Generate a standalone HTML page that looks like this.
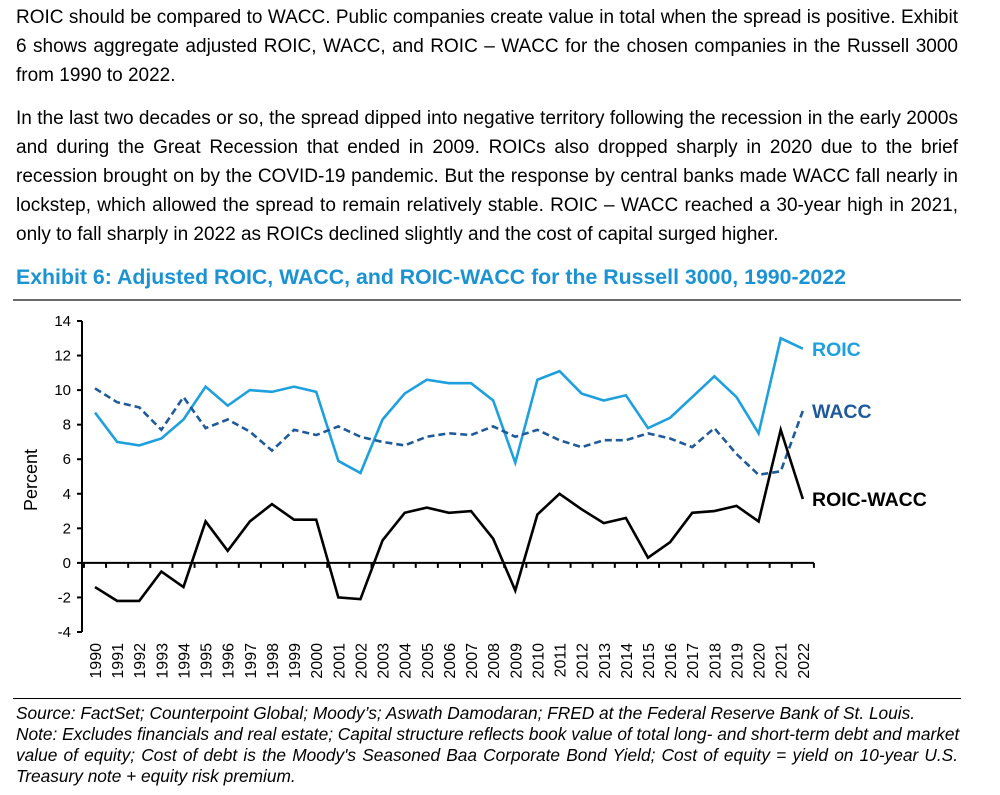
<!DOCTYPE html>
<html><head><meta charset="utf-8"><style>
body{margin:0;width:1000px;height:795px;background:#fff;position:relative;overflow:hidden;font-family:"Liberation Sans",Arial,sans-serif;color:#000}
.ln{position:absolute;left:16px;width:942px;font-size:19px;white-space:nowrap;text-align:justify;text-align-last:justify;line-height:22px}
.last{text-align-last:left}
.ft{position:absolute;left:16px;width:942px;font-size:17.3px;font-style:italic;white-space:nowrap;line-height:20px;text-align:justify;text-align-last:justify}
</style></head><body>
<div>
<div class="ln" style="top:7px">ROIC should be compared to WACC. Public companies create value in total when the spread is positive. Exhibit</div>
<div class="ln" style="top:36px">6 shows aggregate adjusted ROIC, WACC, and ROIC – WACC for the chosen companies in the Russell 3000</div>
<div class="ln last" style="top:65px">from 1990 to 2022.</div>
</div>
<div>
<div class="ln" style="top:108px">In the last two decades or so, the spread dipped into negative territory following the recession in the early 2000s</div>
<div class="ln" style="top:137px">and during the Great Recession that ended in 2009. ROICs also dropped sharply in 2020 due to the brief</div>
<div class="ln" style="top:166px">recession brought on by the COVID-19 pandemic. But the response by central banks made WACC fall nearly in</div>
<div class="ln" style="top:195px">lockstep, which allowed the spread to remain relatively stable. ROIC – WACC reached a 30-year high in 2021,</div>
<div class="ln last" style="top:224px">only to fall sharply in 2022 as ROICs declined slightly and the cost of capital surged higher.</div>
</div>
<div style="position:absolute;left:16px;top:265px;font-size:21.3px;font-weight:bold;color:#1b93d3;white-space:nowrap">Exhibit 6: Adjusted ROIC, WACC, and ROIC-WACC for the Russell 3000, 1990-2022</div>
<div style="position:absolute;left:13px;top:299px;width:948px;height:2px;background:#6a6a6a"></div>
<svg id="chart" width="1000" height="795" style="position:absolute;left:0;top:0" font-family="Liberation Sans, Arial, sans-serif"></svg>
<div style="position:absolute;left:13px;top:698px;width:948px;height:1px;background:#000"></div>
<div>
<div class="ft" style="top:703px;text-align-last:left">Source: FactSet; Counterpoint Global; Moody’s; Aswath Damodaran; FRED at the Federal Reserve Bank of St. Louis.</div>
<div class="ft" style="top:724px">Note: Excludes financials and real estate; Capital structure reflects book value of total long- and short-term debt and market</div>
<div class="ft" style="top:745px">value of equity; Cost of debt is the Moody's Seasoned Baa Corporate Bond Yield; Cost of equity = yield on 10-year U.S.</div>
<div class="ft" style="top:766px;text-align-last:left">Treasury note + equity risk premium.</div>
</div>
<script>
const years=[1990,1991,1992,1993,1994,1995,1996,1997,1998,1999,2000,2001,2002,2003,2004,2005,2006,2007,2008,2009,2010,2011,2012,2013,2014,2015,2016,2017,2018,2019,2020,2021,2022];
const roic=[8.7,7.0,6.8,7.2,8.3,10.2,9.1,10.0,9.9,10.2,9.9,5.9,5.2,8.3,9.8,10.6,10.4,10.4,9.4,5.8,10.6,11.1,9.8,9.4,9.7,7.8,8.4,9.6,10.8,9.6,7.5,13.0,12.4];
const wacc=[10.1,9.3,9.0,7.7,9.6,7.8,8.3,7.6,6.5,7.7,7.4,7.9,7.3,7.0,6.8,7.3,7.5,7.4,7.9,7.3,7.7,7.1,6.7,7.1,7.1,7.5,7.2,6.7,7.8,6.3,5.1,5.3,8.8];
const spread=[-1.4,-2.2,-2.2,-0.5,-1.4,2.4,0.7,2.4,3.4,2.5,2.5,-2.0,-2.1,1.3,2.9,3.2,2.9,3.0,1.4,-1.6,2.8,4.0,3.1,2.3,2.6,0.3,1.2,2.9,3.0,3.3,2.4,7.7,3.7];
const yTicks=[-4,-2,0,2,4,6,8,10,12,14];
const NS="http://www.w3.org/2000/svg";
const svg=document.getElementById('chart');
const x0=95,dx=22.12,yMin=-4,yMax=14,pyTop=321,pyBot=632;
function xs(i){return x0+i*dx;}
function ys(v){return pyBot-(v-yMin)/(yMax-yMin)*(pyBot-pyTop);}
function mk(tag,attrs){const e=document.createElementNS(NS,tag);for(const k in attrs)e.setAttribute(k,attrs[k]);svg.appendChild(e);return e;}
const ya=mk('line',{x1:82,y1:pyTop,x2:82,y2:pyBot,stroke:'#000','stroke-width':2});


yTicks.forEach(v=>{
  const t=mk('line',{x1:77,y1:ys(v),x2:82,y2:ys(v),stroke:'#000','stroke-width':2});
  
  
  const l=mk('text',{x:71,y:ys(v)+5,'text-anchor':'end','font-size':15});
  l.textContent=v;
  
  
});
const yt=mk('text',{x:0,y:0,'font-size':18,'text-anchor':'middle',transform:'translate(37,480) rotate(-90)'});
yt.textContent='Percent';


const zl=mk('line',{x1:82,y1:ys(0),x2:xs(years.length-1)+dx/2,y2:ys(0),stroke:'#000','stroke-width':2});


for(let i=0;i<=years.length;i++){
  const t=mk('line',{x1:xs(i)-dx/2,y1:ys(0),x2:xs(i)-dx/2,y2:ys(0)+5,stroke:'#000','stroke-width':2});
  
  
}
years.forEach((yr,i)=>{
  const l=mk('text',{x:0,y:0,'font-size':16,'text-anchor':'end',transform:`translate(${xs(i)+6},643) rotate(-90)`});
  l.textContent=yr;
  
  
});
function series(arr,color,dash,name){
  const p=mk('polyline',{points:arr.map((v,i)=>xs(i)+','+ys(v)).join(' '),fill:'none',stroke:color,'stroke-width':2.6,'stroke-linejoin':'miter'});
  if(dash)p.setAttribute('stroke-dasharray',dash);
  
  
}
series(roic,'#1ea0de',null,'roic-line');
series(wacc,'#1f5a9a','7,4','wacc-line');
series(spread,'#000',null,'roic-wacc-line');
function lg(txt,y,c,name){const t=mk('text',{x:812,y:y,'font-size':19.5,'font-weight':'bold',fill:c});t.textContent=txt;
  
  }
lg('ROIC',356,'#1ea0de','legend-roic');
lg('WACC',418,'#1f5a9a','legend-wacc');
lg('ROIC-WACC',506,'#000','legend-roic-wacc');
</script>
</body></html>
